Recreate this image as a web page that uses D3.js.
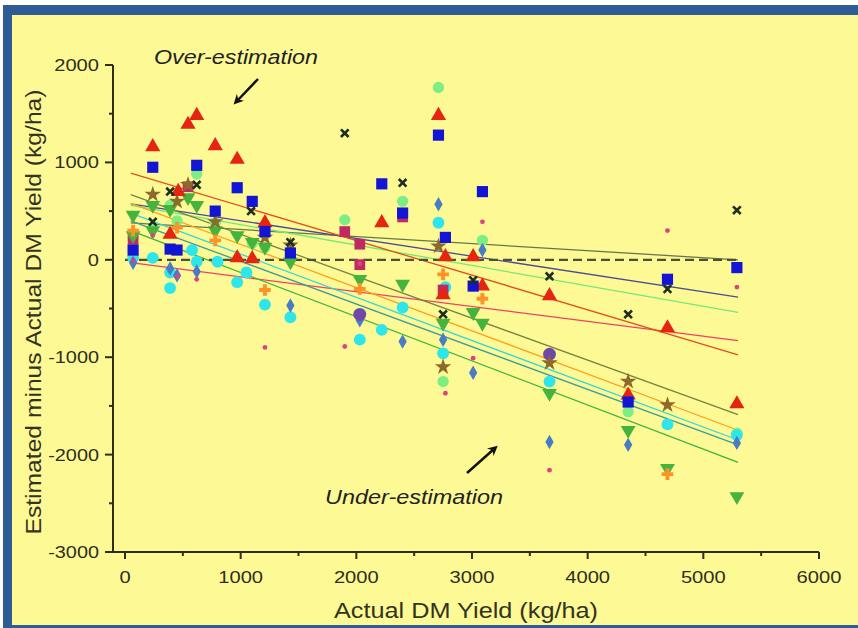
<html>
<head>
<title>DM yield error</title>
<script src="https://cdn.jsdelivr.net/npm/d3@7"></script>
<style>
  body { margin: 0; background: #fff; }
  text { font-family: "Liberation Sans", Arial, sans-serif; }
</style>
</head>
<body>
<script>
// x ticks / y ticks
const xTicks = [0, 1000, 2000, 3000, 4000, 5000, 6000]
const yTicks = [2000, 1000, 0, -1000, -2000, -3000]

// scatter series, [actual yield, estimated - actual]
const blueSquare = [[70,100],[240,950],[390,110],[450,100],[620,970],[780,500],[970,740],[1100,600],[1210,290],[1430,70],[2220,780],[2400,480],[2710,1280],[2770,230],[3010,-270],[3090,700],[4350,-1460],[4690,-200],[5290,-80]]
const redTriangle = [[240,1160],[460,700],[390,260],[545,1390],[620,1480],[780,1170],[970,1030],[1100,10],[970,20],[1210,380],[2220,380],[2710,1480],[2770,30],[3010,30],[3090,-270],[2750,-360],[3670,-370],[4690,-700],[4350,-1390],[5290,-1480]]
const greenTriDown = [[70,460],[70,250],[240,560],[240,300],[390,520],[545,640],[620,560],[780,300],[970,250],[1100,180],[1210,130],[1430,-20],[2030,-200],[2400,-250],[2750,-650],[3010,-540],[3090,-650],[3670,-1370],[4350,-1750],[4690,-2140],[5290,-2430]]
const cyanCircle = [[70,20],[240,20],[390,-130],[390,-290],[580,100],[620,-20],[800,-20],[970,-230],[1050,-130],[1210,-460],[1430,-590],[2030,-820],[2220,-720],[2400,-490],[2710,380],[2770,-280],[2750,-960],[3670,-1250],[4690,-1690],[5290,-1800]]
const steelDiamond = [[70,-30],[390,-90],[450,-160],[620,-120],[1430,-470],[2030,-620],[2400,-840],[2710,570],[2750,-820],[3010,-1160],[3090,100],[3670,-1870],[4350,-1900],[5290,-1880]]
const paleGreenCircle = [[70,230],[240,330],[390,560],[450,400],[620,880],[780,380],[1100,170],[1210,130],[1900,410],[2400,600],[2710,1770],[3090,200],[2750,-1250],[4350,-1560],[5290,-1780]]
const blackX = [[240,390],[390,700],[620,770],[1090,500],[1430,180],[1900,1300],[2400,790],[3010,-210],[3670,-170],[4350,-560],[4690,-300],[5290,510],[2750,-560]]
const brownStar = [[240,670],[450,600],[545,770],[780,390],[1210,230],[1430,150],[2710,140],[2750,-1100],[3670,-1060],[4350,-1250],[4690,-1490]]
const magentaSquare = [[70,210],[545,750],[1900,290],[2030,160],[2030,-50],[2400,440],[2750,-310]]
const orangePlus = [[70,300],[450,330],[780,200],[1210,-310],[2030,-300],[2750,-150],[3090,-400],[4690,-2200]]
const pinkDot = [[70,0],[240,250],[450,-170],[620,-200],[1210,-900],[1900,-890],[2030,-40],[2770,-1370],[3010,-1010],[3090,390],[3670,-2160],[4690,300],[5290,-280]]
const purpleHex = [[3670,-970],[2030,-560]]

// regression lines, [x0, y0, x1, y1]
const fitLines = [
  { color: '#63784e', p: [50, 380, 5300, 0] },
  { color: '#4a4c98', p: [50, 575, 5300, -383] },
  { color: '#74e874', p: [50, 560, 5300, -540] },
  { color: '#f0406a', p: [50, -30, 5300, -830] },
  { color: '#e2501e', p: [50, 890, 5300, -975] },
  { color: '#748440', p: [50, 670, 5300, -1590] },
  { color: '#ffa020', p: [50, 580, 5300, -1750] },
  { color: '#30d8d8', p: [50, 480, 5300, -1850] },
  { color: '#3c9c9c', p: [50, 400, 5300, -1900] },
  { color: '#3cb43c', p: [50, 300, 5300, -2080] }
]

const svg = d3.select('body').append('svg')
  .attr('width', 858)
  .attr('height', 628)

// frame
svg.append('rect').attr('x', 3).attr('y', 5).attr('width', 870).attr('height', 640).attr('fill', '#2f5c94')
svg.append('rect').attr('x', 12).attr('y', 15).attr('width', 860).attr('height', 610).attr('fill', '#fdfa95')

const x = d3.scaleLinear().domain([0, 6000]).range([125, 819])
const y = d3.scaleLinear().domain([-3000, 2000]).range([552, 65])
const axisColor = '#2e2e1c'

// fit lines
fitLines.forEach(function(l) {
  svg.append('line')
    .attr('x1', x(l.p[0])).attr('y1', y(l.p[1]))
    .attr('x2', x(l.p[2])).attr('y2', y(l.p[3]))
    .attr('stroke', l.color).attr('stroke-width', 1.3)
})

// zero line
svg.append('line')
  .attr('x1', x(0)).attr('y1', y(0)).attr('x2', x(5300)).attr('y2', y(0))
  .attr('stroke', '#4e4e3a').attr('stroke-width', 2.2).attr('stroke-dasharray', '9,5')

function drawSeries(data, type, size, color, rot, stroke) {
  const sym = d3.symbol().type(type).size(size)
  svg.append('g').selectAll('path')
    .data(data)
    .enter().append('path')
    .attr('d', sym)
    .attr('transform', d => 'translate(' + x(d[0]) + ',' + y(d[1]) + ') rotate(' + (rot || 0) + ')')
    .attr('fill', stroke ? 'none' : color)
    .attr('stroke', stroke ? color : 'none')
    .attr('stroke-width', stroke ? 2.6 : 0)
}

drawSeries(paleGreenCircle, d3.symbolCircle, 100, '#7cee84')
drawSeries(cyanCircle, d3.symbolCircle, 110, '#2ee6ea')
drawSeries(steelDiamond, d3.symbolDiamond, 60, '#4a7cc6')
drawSeries(purpleHex, d3.symbolCircle, 130, '#7048a8')
drawSeries(magentaSquare, d3.symbolSquare, 115, '#c02a62')
drawSeries(greenTriDown, d3.symbolTriangle, 95, '#46b43c', 180)
drawSeries(orangePlus, d3.symbolCross, 75, '#ff9226')
drawSeries(brownStar, d3.symbolStar, 85, '#8c6a2c')
drawSeries(redTriangle, d3.symbolTriangle, 100, '#e52412')
drawSeries(blueSquare, d3.symbolSquare, 125, '#1414d4')
drawSeries(blackX, d3.symbolX, 40, '#1e2e1e', 0, true)
drawSeries(pinkDot, d3.symbolCircle, 18, '#e0407e')

// tick labels are wide in the original, stretch them a bit
function labelWidth(d) {
  const s = String(d)
  return (s.replace('-', '').length * 11.2) + (s[0] === '-' ? 6 : 0)
}

// axes
const xAxis = svg.append('g')
xAxis.append('line').attr('x1', 113).attr('x2', x(6000)).attr('y1', 552).attr('y2', 552)
  .attr('stroke', axisColor).attr('stroke-width', 2)
d3.range(0, 6001, 500).forEach(function(v) {
  xAxis.append('line').attr('x1', x(v)).attr('x2', x(v)).attr('y1', 552).attr('y2', v % 1000 === 0 ? 559 : 556)
    .attr('stroke', axisColor).attr('stroke-width', 2)
})
xAxis.selectAll('text').data(xTicks).enter().append('text')
  .attr('x', d => x(d)).attr('y', 583)
  .attr('text-anchor', 'middle').attr('font-size', 17).attr('fill', axisColor)
  .attr('textLength', labelWidth).attr('lengthAdjust', 'spacingAndGlyphs')
  .text(d => d)

const yAxis = svg.append('g')
yAxis.append('line').attr('x1', 113).attr('x2', 113).attr('y1', y(2000)).attr('y2', 552)
  .attr('stroke', axisColor).attr('stroke-width', 2)
d3.range(-3000, 2001, 500).forEach(function(v) {
  yAxis.append('line').attr('x1', 113).attr('x2', v % 1000 === 0 ? 105 : 109).attr('y1', y(v)).attr('y2', y(v))
    .attr('stroke', axisColor).attr('stroke-width', 2)
})
yAxis.selectAll('text').data(yTicks).enter().append('text')
  .attr('x', 99).attr('y', d => y(d) + 6)
  .attr('text-anchor', 'end').attr('font-size', 17).attr('fill', axisColor)
  .attr('textLength', labelWidth).attr('lengthAdjust', 'spacingAndGlyphs')
  .text(d => d)

// titles
svg.append('text').attr('x', 466).attr('y', 618).attr('text-anchor', 'middle')
  .attr('font-size', 22).attr('fill', '#333322')
  .attr('textLength', 264).attr('lengthAdjust', 'spacingAndGlyphs')
  .text('Actual DM Yield (kg/ha)')
svg.append('text').attr('transform', 'translate(41,312) rotate(-90)').attr('text-anchor', 'middle')
  .attr('font-size', 22).attr('fill', '#333322')
  .attr('textLength', 445).attr('lengthAdjust', 'spacingAndGlyphs')
  .text('Estimated minus Actual DM Yield (kg/ha)')

// annotations
svg.append('defs').append('marker').attr('id', 'head')
  .attr('viewBox', '0 0 10 10').attr('refX', 5).attr('refY', 5)
  .attr('markerWidth', 4).attr('markerHeight', 4).attr('orient', 'auto')
  .append('path').attr('d', 'M0,0 L10,5 L0,10 L3,5 Z').attr('fill', '#111')

svg.append('text').attr('x', 236).attr('y', 64).attr('text-anchor', 'middle')
  .attr('font-family', 'Open Sans').attr('font-style', 'italic').attr('font-size', 21)
  .attr('fill', '#222').attr('textLength', 164).attr('lengthAdjust', 'spacingAndGlyphs')
  .text('Over-estimation')
svg.append('line').attr('x1', 258).attr('y1', 79).attr('x2', 237).attr('y2', 101)
  .attr('stroke', '#111').attr('stroke-width', 2.5).attr('marker-end', 'url(#head)')

svg.append('text').attr('x', 414).attr('y', 504).attr('text-anchor', 'middle')
  .attr('font-family', 'Open Sans').attr('font-style', 'italic').attr('font-size', 21)
  .attr('fill', '#222').attr('textLength', 178).attr('lengthAdjust', 'spacingAndGlyphs')
  .text('Under-estimation')
svg.append('line').attr('x1', 467).attr('y1', 473).attr('x2', 494).attr('y2', 449)
  .attr('stroke', '#111').attr('stroke-width', 2.5).attr('marker-end', 'url(#head)')
</script>
</body>
</html>
